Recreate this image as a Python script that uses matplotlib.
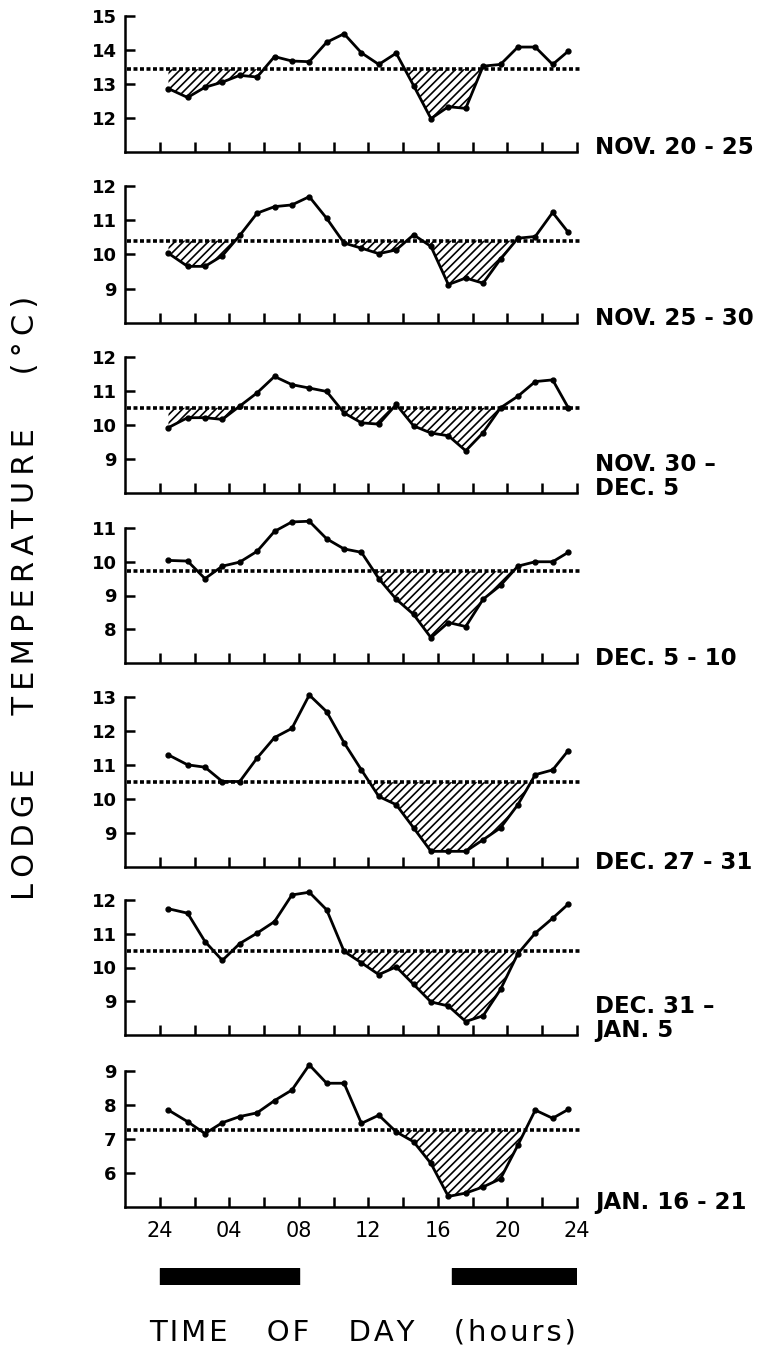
import numpy as np
import matplotlib.pyplot as plt

# hour of each reading (plotted just after the hour mark)
hours = [0.5, 1.6, 2.6, 3.6, 4.6, 5.6, 6.6, 7.6, 8.6, 9.6, 10.6, 11.6,
         12.6, 13.6, 14.6, 15.6, 16.6, 17.6, 18.6, 19.6, 20.6, 21.6, 22.6, 23.5]

nov20_25 = [12.86, 12.6, 12.9, 13.05, 13.25, 13.2, 13.8, 13.67, 13.65, 14.22, 14.47, 13.91,
            13.57, 13.9, 12.95, 11.98, 12.33, 12.28, 13.52, 13.57, 14.08, 14.08, 13.57, 13.96]
nov25_30 = [10.03, 9.65, 9.65, 9.96, 10.55, 11.2, 11.39, 11.44, 11.68, 11.05, 10.33, 10.18,
            10.02, 10.13, 10.57, 10.23, 9.12, 9.31, 9.16, 9.86, 10.47, 10.52, 11.22, 10.64]
nov30_dec5 = [9.92, 10.21, 10.21, 10.16, 10.55, 10.94, 11.42, 11.18, 11.08, 10.98, 10.35, 10.06,
              10.02, 10.6, 9.97, 9.76, 9.68, 9.24, 9.77, 10.5, 10.84, 11.27, 11.32, 10.5]
dec5_10 = [10.04, 10.02, 9.5, 9.87, 9.99, 10.31, 10.9, 11.18, 11.2, 10.68, 10.38, 10.28,
           9.5, 8.89, 8.44, 7.75, 8.2, 8.08, 8.89, 9.3, 9.87, 10.0, 10.0, 10.28]
dec27_31 = [11.29, 11.0, 10.93, 10.51, 10.51, 11.2, 11.8, 12.07, 13.05, 12.56, 11.65, 10.85,
            10.07, 9.83, 9.15, 8.46, 8.46, 8.46, 8.8, 9.15, 9.83, 10.71, 10.85, 11.42]
dec31_jan5 = [11.74, 11.61, 10.77, 10.21, 10.71, 11.02, 11.36, 12.15, 12.23, 11.71, 10.48, 10.14,
              9.79, 10.02, 9.5, 8.98, 8.86, 8.4, 8.57, 9.35, 10.41, 11.02, 11.46, 11.88]
jan16_21 = [7.85, 7.51, 7.16, 7.48, 7.66, 7.77, 8.13, 8.44, 9.18, 8.64, 8.64, 7.46,
            7.7, 7.21, 6.92, 6.28, 5.31, 5.41, 5.59, 5.83, 6.82, 7.85, 7.61, 7.87]

series = [nov20_25, nov25_30, nov30_dec5, dec5_10, dec27_31, dec31_jan5, jan16_21]
means = [13.43, 10.40, 10.50, 9.72, 10.49, 10.50, 7.26]
y_ranges = [(11, 15), (8, 12), (8, 12), (7, 11), (8, 13), (8, 12), (5, 9)]
hatch_from = [0, 0, 0, 11, 10, 10, 11]
labels = ["NOV. 20 - 25", "NOV. 25 - 30", "NOV. 30 \u2013\nDEC. 5", "DEC. 5 - 10",
          "DEC. 27 - 31", "DEC. 31 \u2013\nJAN. 5", "JAN. 16 - 21"]

tick_hours = [0, 2, 4, 6, 8, 10, 12, 14, 16, 18, 20, 22, 24]
tick_names = ["24", "", "04", "", "08", "", "12", "", "16", "", "20", "", "24"]

night_start = [0, 16.8]
night_end = [8, 24]

plt.rcParams['font.family'] = 'DejaVu Sans'
plt.rcParams['hatch.linewidth'] = 1.2


def spaced(s, gap='\u200a'):
	# old typewriter-style lettering: a little air between letters
	return '\n'.join(gap.join(line) for line in s.split('\n'))


W, H = 760, 1352
fig = plt.figure(figsize=(W / 100, H / 100), dpi=100)

# panel frames in pixels (top, bottom)
tops = [15.7, 185.7, 356.7, 528, 696.7, 900, 1071]
bottoms = [152, 323, 493, 663, 867, 1035, 1207]
left, right = 125, 577

for i in range(7):
	ax = fig.add_axes([left / W, 1 - bottoms[i] / H, (right - left) / W, (bottoms[i] - tops[i]) / H])
	y = np.array(series[i])
	x = np.array(hours)
	lo, hi = y_ranges[i]
	ax.set_xlim(-2, 24)
	ax.set_ylim(lo, hi)

	mask = (y < means[i]) & (x >= hatch_from[i])
	ax.fill_between(x, y, means[i], where=mask, interpolate=True,
		facecolor='none', edgecolor='black', hatch='////', linewidth=0)
	ax.axhline(means[i], xmin=0.005, xmax=1.01, color='black', lw=2.6,
		ls=(0, (1.1, 0.7)), clip_on=False)
	ax.plot(x, y, color='black', lw=2, marker='o', markersize=3.5, clip_on=False)

	for s in ['top', 'right']:
		ax.spines[s].set_visible(False)
	for s in ['left', 'bottom']:
		ax.spines[s].set_linewidth(1.8)

	ax.set_yticks(list(range(lo + 1, hi + 1)))
	ax.set_yticklabels([str(v) for v in range(lo + 1, hi + 1)], fontsize=13, fontweight='bold')
	ax.set_xticks(tick_hours)
	if i == 6:
		ax.set_xticklabels(tick_names, fontsize=15)
	else:
		ax.set_xticklabels([])
	ax.tick_params(axis='both', direction='in', length=7, width=1.8, pad=6)
	ax.tick_params(axis='x', pad=10)

	ax.annotate(labels[i], xy=(1, 0), xycoords='axes fraction', xytext=(13, -5),
		textcoords='offset points', ha='left', va='bottom', fontsize=16.5,
		fontweight='bold', linespacing=1.05)

# night bars under the time axis
bar_ax = fig.add_axes([left / W, 1 - 1285 / H, (right - left) / W, 17 / H])
bar_ax.set_xlim(-2, 24)
bar_ax.set_ylim(0, 1)
bar_ax.broken_barh([(s, e - s) for s, e in zip(night_start, night_end)], (0, 1), color='black')
bar_ax.axis('off')

fig.text(26 / W, 1 - 598 / H, spaced("LODGE   TEMPERATURE   (\u00b0C)", '\u2009'), rotation=90,
	ha='center', va='center', fontsize=22)
fig.text(363 / W, 1 - 1332 / H, spaced("TIME   OF   DAY   (hours)", '\u200a'),
	ha='center', va='center', fontsize=21)

fig.savefig('out.png', dpi=100)
plt.close()
